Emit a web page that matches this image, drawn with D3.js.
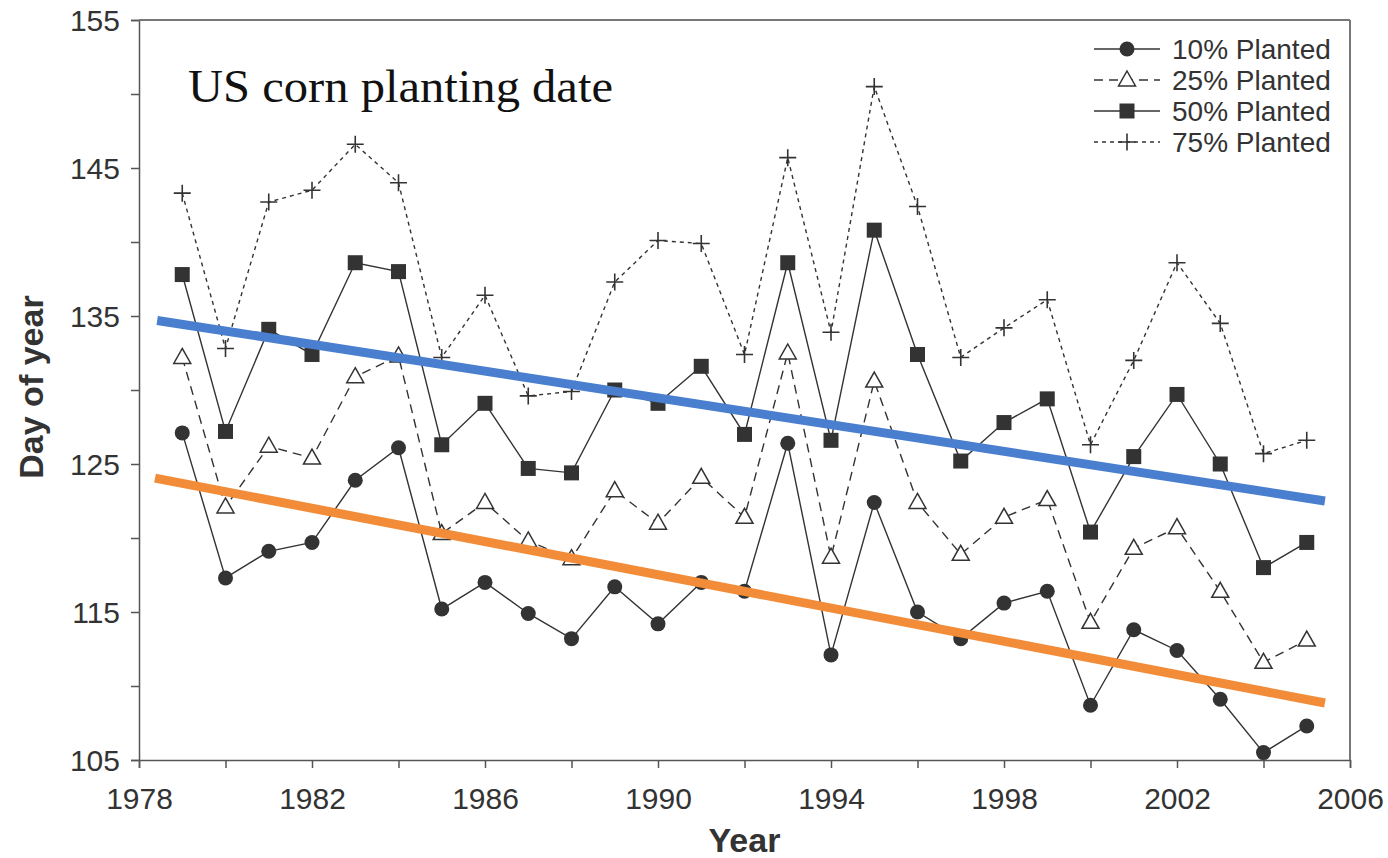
<!DOCTYPE html>
<html>
<head>
<meta charset="utf-8">
<script src="https://cdn.jsdelivr.net/npm/d3@7"></script>
<style>
  body { margin: 0; background: #fff; }
  svg { display: block; }
</style>
</head>
<body>
<div id="chart"></div>
<script>
// data (day of year)
const years = [1979, 1980, 1981, 1982, 1983, 1984, 1985, 1986, 1987, 1988, 1989, 1990, 1991, 1992,
  1993, 1994, 1995, 1996, 1997, 1998, 1999, 2000, 2001, 2002, 2003, 2004, 2005];
const planted10 = [127.1, 117.3, 119.1, 119.7, 123.9, 126.1, 115.2, 117.0, 114.9, 113.2, 116.7, 114.2, 117.0, 116.4,
  126.4, 112.1, 122.4, 115.0, 113.2, 115.6, 116.4, 108.7, 113.8, 112.4, 109.1, 105.5, 107.3];
const planted25 = [132.2, 122.1, 126.2, 125.4, 130.9, 132.3, 120.3, 122.4, 119.8, 118.6, 123.2, 121.0, 124.1, 121.4,
  132.5, 118.7, 130.6, 122.4, 118.9, 121.4, 122.6, 114.3, 119.3, 120.7, 116.4, 111.6, 113.1];
const planted50 = [137.8, 127.2, 134.1, 132.4, 138.6, 138.0, 126.3, 129.1, 124.7, 124.4, 130.0, 129.1, 131.6, 127.0,
  138.6, 126.6, 140.8, 132.4, 125.2, 127.8, 129.4, 120.4, 125.5, 129.7, 125.0, 118.0, 119.7];
const planted75 = [143.3, 132.8, 142.7, 143.5, 146.6, 144.0, 132.2, 136.4, 129.6, 129.9, 137.3, 140.1, 139.9, 132.4,
  145.7, 133.9, 150.5, 142.4, 132.2, 134.2, 136.1, 126.3, 132.0, 138.6, 134.5, 125.7, 126.6];

// trend lines drawn over the figure: [year, day]
const trendBlue = [[1978.42, 134.7], [2005.42, 122.5]];
const trendOrange = [[1978.37, 124.05], [2005.42, 108.85]];

const xTicks = [1978, 1980, 1982, 1984, 1986, 1988, 1990, 1992, 1994, 1996, 1998, 2000, 2002, 2004, 2006];
const xLabels = [1978, 1982, 1986, 1990, 1994, 1998, 2002, 2006];
const yTicks = [105, 110, 115, 120, 125, 130, 135, 140, 145, 150, 155];
const yLabels = [105, 115, 125, 135, 145, 155];

const seriesNames = ["10% Planted", "25% Planted", "50% Planted", "75% Planted"];

const MARGIN = { LEFT: 139, RIGHT: 38, TOP: 20, BOTTOM: 98 };
const WIDTH = 1388;
const HEIGHT = 858;
const innerW = WIDTH - MARGIN.LEFT - MARGIN.RIGHT;
const innerH = HEIGHT - MARGIN.TOP - MARGIN.BOTTOM;

const INK = "#333";
const AXIS = "#555";

const svg = d3.select("#chart")
  .append("svg")
  .attr("width", WIDTH)
  .attr("height", HEIGHT);

const g = svg.append("g")
  .attr("transform", `translate(${MARGIN.LEFT}, ${MARGIN.TOP})`);

const x = d3.scaleLinear().domain([1978, 2006]).range([0, innerW]);
const y = d3.scaleLinear().domain([105, 155]).range([innerH, 0]);

// axes
const xAxis = g.append("g")
  .attr("transform", `translate(0, ${innerH})`)
  .call(d3.axisBottom(x).tickValues(xTicks).tickSize(8).tickPadding(12)
    .tickFormat(d => xLabels.includes(d) ? d : ""));
const yAxis = g.append("g")
  .call(d3.axisLeft(y).tickValues(yTicks).tickSize(8).tickPadding(11)
    .tickFormat(d => yLabels.includes(d) ? d : ""));

[xAxis, yAxis].forEach(a => {
  a.select(".domain").attr("stroke", AXIS).attr("stroke-width", 1.5);
  a.selectAll(".tick line").attr("stroke", AXIS).attr("stroke-width", 1.5);
  a.selectAll("text")
    .attr("fill", "#333")
    .style("font-family", "'Liberation Sans', Arial, sans-serif")
    .style("font-size", "30px");
});
xAxis.selectAll("text").attr("dy", "0.95em");
yAxis.selectAll("text").attr("dy", "0.36em");

// box: top and right edges
g.append("line")
  .attr("x1", 0).attr("y1", 0).attr("x2", innerW).attr("y2", 0)
  .attr("stroke", "#777").attr("stroke-width", 2);
g.append("line")
  .attr("x1", innerW).attr("y1", 0).attr("x2", innerW).attr("y2", innerH)
  .attr("stroke", "#777").attr("stroke-width", 2);

// axis titles
svg.append("text")
  .attr("x", MARGIN.LEFT + x(1992))
  .attr("y", 852)
  .attr("text-anchor", "middle")
  .style("font-family", "'Liberation Sans', Arial, sans-serif")
  .style("font-size", "34px")
  .style("font-weight", "bold")
  .attr("fill", "#333")
  .text("Year");

svg.append("text")
  .attr("transform", `translate(43, ${MARGIN.TOP + y(130.2)}) rotate(-90)`)
  .attr("text-anchor", "middle")
  .style("font-family", "'Liberation Sans', Arial, sans-serif")
  .style("font-size", "34px")
  .style("font-weight", "bold")
  .attr("fill", "#333")
  .text("Day of year");

// title
svg.append("text")
  .attr("x", 188)
  .attr("y", 102)
  .attr("textLength", 425)
  .attr("lengthAdjust", "spacingAndGlyphs")
  .style("font-family", "'Liberation Serif', 'Times New Roman', serif")
  .style("font-size", "47px")
  .attr("fill", "#111")
  .text("US corn planting date");

// markers
function drawMarker(sel, kind, cx, cy) {
  if (kind === "circle") {
    sel.append("circle").attr("cx", cx).attr("cy", cy).attr("r", 7.5).attr("fill", INK);
  } else if (kind === "square") {
    sel.append("rect").attr("x", cx - 7.5).attr("y", cy - 7.5)
      .attr("width", 15).attr("height", 15).attr("fill", INK);
  } else if (kind === "triangle") {
    sel.append("path")
      .attr("d", `M${cx},${cy - 9}L${cx + 8.5},${cy + 6}L${cx - 8.5},${cy + 6}Z`)
      .attr("fill", "#fff").attr("stroke", INK).attr("stroke-width", 1.5);
  } else {
    sel.append("path")
      .attr("d", `M${cx - 8.5},${cy}H${cx + 8.5}M${cx},${cy - 8.5}V${cy + 8.5}`)
      .attr("stroke", INK).attr("stroke-width", 1.6).attr("fill", "none");
  }
}

const series = [
  { name: seriesNames[0], values: planted10, dash: null, marker: "circle" },
  { name: seriesNames[1], values: planted25, dash: "9,6", marker: "triangle" },
  { name: seriesNames[2], values: planted50, dash: null, marker: "square" },
  { name: seriesNames[3], values: planted75, dash: "4,4", marker: "cross" }
];

const line = d3.line().x(d => x(d[0])).y(d => y(d[1]));

series.forEach(s => {
  const pts = years.map((yr, i) => [yr, s.values[i]]);
  g.append("path")
    .datum(pts)
    .attr("d", line)
    .attr("fill", "none")
    .attr("stroke", INK)
    .attr("stroke-width", 1.4)
    .attr("stroke-dasharray", s.dash);
  const mg = g.append("g");
  pts.forEach(p => drawMarker(mg, s.marker, x(p[0]), y(p[1])));
});

// trend lines
[[trendBlue, "#4a7fcf"], [trendOrange, "#f28c38"]].forEach(([t, c]) => {
  g.append("path")
    .datum(t)
    .attr("d", line)
    .attr("fill", "none")
    .attr("stroke", c)
    .attr("stroke-width", 9);
});

// legend
const legend = svg.append("g").attr("transform", "translate(1094, 49)");
series.forEach((s, i) => {
  const row = legend.append("g").attr("transform", `translate(0, ${i * 31})`);
  row.append("line")
    .attr("x1", 0).attr("x2", 66).attr("y1", 0).attr("y2", 0)
    .attr("stroke", INK).attr("stroke-width", 1.4)
    .attr("stroke-dasharray", s.dash);
  drawMarker(row, s.marker, 33, 0);
  row.append("text")
    .attr("x", 78)
    .attr("y", 10)
    .style("font-family", "'Liberation Sans', Arial, sans-serif")
    .style("font-size", "28px")
    .attr("fill", "#333")
    .text(s.name);
});
</script>
</body>
</html>
